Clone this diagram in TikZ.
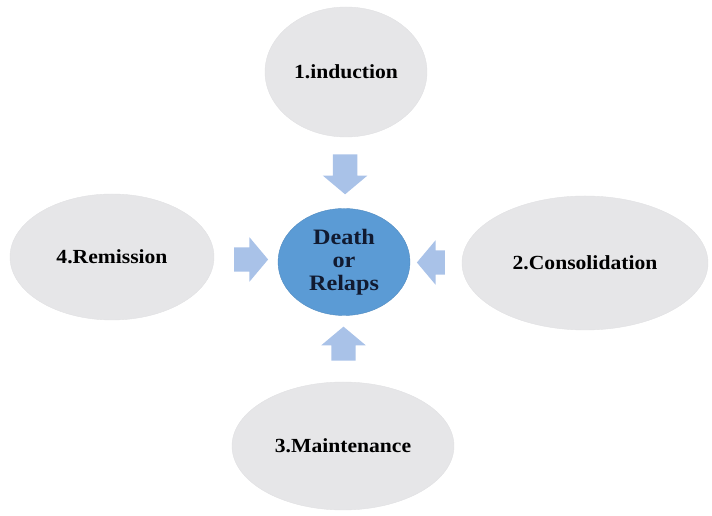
\documentclass[tikz,border=0pt]{standalone}
\usepackage{fontspec}
\setmainfont{Liberation Serif}
\newfontfamily\phasefont[FakeStretch=1.08]{Liberation Serif}
\newfontfamily\corefont[FakeStretch=1.1]{Liberation Serif}
\usetikzlibrary{shapes.geometric, shapes.arrows, calc}

\definecolor{phasegray}{HTML}{E6E6E8}
\definecolor{coreblue}{HTML}{5B9BD5}
\definecolor{arrowblue}{HTML}{A9C2E8}
\definecolor{coretext}{HTML}{111A30}

\begin{document}
\begin{tikzpicture}[
        x=1pt, y=1pt,
        phase/.style={ellipse, fill=phasegray, draw=phasegray!95!gray, inner sep=0pt,
                      font=\phasefont\fontsize{20}{22}\selectfont\bfseries, text=black},
        core/.style={ellipse, fill=coreblue, draw=coreblue!90!black, inner sep=0pt,
                     align=center, font=\corefont\fontsize{22}{23}\selectfont\bfseries, text=coretext},
        blockarrow/.style={single arrow, fill=arrowblue, draw=none, inner xsep=0pt,
                           inner ysep=12pt, single arrow head extend=10pt,
                           single arrow tip angle=100}
    ]
    % --- frame ---
    \useasboundingbox (0, 0) rectangle (712, 516);

    % --- the centre ---
    \node[core, minimum width=132pt, minimum height=107pt] (core) at (344, 254)
        {Death\\or\\Relaps};

    % --- the four phases ---
    \node[phase, minimum width=162pt, minimum height=130pt] (induct) at (346, 444) {1.induction};
    \node[phase, minimum width=246pt, minimum height=134pt] (consol) at (585, 253) {2.Consolidation};
    \node[phase, minimum width=222pt, minimum height=128pt] (maint) at (343, 70) {3.Maintenance};
    \node[phase, minimum width=204pt, minimum height=126pt] (remis) at (112, 259) {4.Remission};

    % --- block arrows, half way between each phase and the centre ---
    \node[blockarrow, rotate=-90, minimum height=40pt]
        (arrA) at ($(induct.south)!0.45!(core.north)$) {};
    \node[blockarrow, rotate=180, minimum height=28pt]
        (arrB) at ($(consol.west)!0.5!(core.east)$) {};
    \node[blockarrow, rotate=90, minimum height=34pt]
        (arrC) at ($(maint.north)!0.5!(core.south)$) {};
    \node[blockarrow, minimum height=34pt]
        (arrD) at ($(remis.east)!0.5!(core.west)$) {};
\end{tikzpicture}
\end{document}
